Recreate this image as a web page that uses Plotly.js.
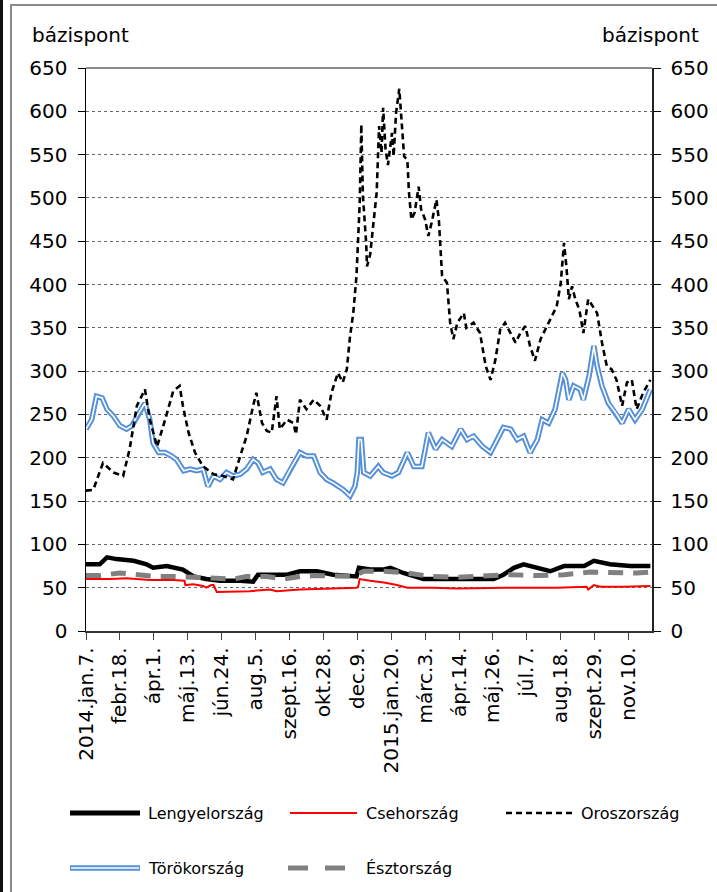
<!DOCTYPE html>
<html>
<head>
<meta charset="utf-8">
<script src="https://cdn.plot.ly/plotly-3.0.1.min.js"></script>
<style>
  html, body { margin: 0; padding: 0; background: #fff; }
  #wrap { position: relative; width: 717px; height: 892px; overflow: hidden; }
  #chart { position: absolute; left: 0; top: 0; width: 717px; height: 892px; }
  .frameTop { position: absolute; left: 11px; top: 4px; width: 706px; height: 0; border-top: 2px solid #8a8a8a; pointer-events: none; }
  .frameLeft { position: absolute; left: 10px; top: 4px; width: 0; height: 888px; border-left: 2px solid #8a8a8a; pointer-events: none; }
  .frameOuter { position: absolute; left: 0; top: 0; width: 0; height: 892px; border-left: 3px solid #111; pointer-events: none; }
</style>
</head>
<body>
<div id="wrap">
  <div id="chart"></div>
  <div class="frameTop"></div>
  <div class="frameLeft"></div>
  <div class="frameOuter"></div>
</div>
<script>
// ---- data (days since 2014-01-07, values in basis points) ----
const startDate = "2014-01-07";

const tickDates = ["2014-01-07","2014-02-18","2014-04-01","2014-05-13","2014-06-24","2014-08-05",
  "2014-09-16","2014-10-28","2014-12-09","2015-01-20","2015-03-03","2015-04-14","2015-05-26",
  "2015-07-07","2015-08-18","2015-09-29","2015-11-10"];
const tickLabels = ["2014.jan.7.","febr.18.","ápr.1.","máj.13.","jún.24.","aug.5.","szept.16.",
  "okt.28.","dec.9.","2015.jan.20.","márc.3.","ápr.14.","máj.26.","júl.7.","aug.18.","szept.29.","nov.10."];

const seriesNames = ["Lengyelország","Csehország","Oroszország","Törökország","Észtország"];

const plDays = [0,17,26,38,59,75,83,100,120,133,149,166,191,207,213,232,249,265,286,306,327,335,338,352,369,377,393,418,443,468,488,505,517,530,542,559,575,592,617,629,649,674,699];
const plVals = [77,77,85,83,81,77,73,75,71,63,60,58,58,57,65,65,65,69,69,65,63,63,73,71,71,73,67,60,60,60,60,60,65,73,77,73,69,75,75,81,77,75,75];

const czDays = [0,30,50,79,108,122,123,133,145,149,155,158,162,203,228,236,265,306,335,337,339,352,369,385,398,431,459,521,583,620,622,629,637,666,699];
const czVals = [60,60,61,59,59,58,53,54,52,50,53,53,45,46,48,46,48,49,50,51,60,58,56,53,50,50,49,50,50,51,48,53,51,51,52];

const ruDays = [0,9,21,34,46,54,63,73,79,88,98,108,116,120,127,135,145,158,170,182,191,199,207,211,218,224,230,236,240,249,257,260,265,273,282,290,298,304,312,318,323,327,331,335,339,341,343,347,348,352,356,360,363,366,368,371,374,379,381,384,388,391,394,398,400,403,407,412,415,420,424,428,434,437,441,447,451,455,460,468,471,480,488,495,501,507,513,519,525,532,538,544,550,556,563,571,579,583,588,592,595,598,602,606,611,616,622,627,633,639,645,651,657,664,670,676,682,690,699];
const ruVals = [162,163,194,183,179,210,260,279,244,213,244,277,283,260,229,206,190,181,179,175,202,225,260,275,240,231,229,271,233,244,240,227,267,256,267,260,244,275,298,287,302,340,367,410,494,585,502,448,421,435,471,506,583,552,604,556,538,575,548,598,626,583,548,544,506,475,483,513,487,475,456,471,498,475,410,402,356,337,356,367,350,356,344,306,290,313,348,356,346,333,344,352,329,312,337,352,367,375,402,448,421,383,398,383,371,344,383,375,367,333,306,302,290,260,287,290,256,275,290];

const trDays = [0,7,13,20,26,34,42,50,57,63,73,79,83,90,98,106,112,121,129,137,145,151,158,166,174,182,191,199,207,213,219,228,236,244,253,265,273,282,290,298,306,319,327,333,336,338,341,344,352,362,368,379,387,398,406,416,424,433,441,453,464,472,480,491,501,509,517,526,534,542,550,559,565,573,581,590,594,598,604,612,616,623,629,633,639,647,656,664,672,680,689,699];
const trVals = [233,244,271,269,256,248,237,233,237,248,263,244,217,206,206,202,198,185,187,185,187,167,179,175,183,179,181,187,198,194,183,187,175,171,187,206,202,202,183,175,171,163,156,167,183,221,221,183,179,190,183,179,183,206,190,190,229,210,221,213,233,221,225,213,206,221,235,233,221,225,206,221,244,240,256,298,290,267,283,279,267,294,329,306,283,263,252,240,256,244,256,279];

const eeDays = [0,17,42,67,87,108,133,158,183,199,224,245,265,286,306,331,344,369,398,427,459,492,525,559,592,625,657,682,699];
const eeVals = [64,64,67,65,63,63,62,60,60,63,63,60,63,64,64,63,69,69,67,63,62,64,65,64,65,68,67,67,68];

// ---- helpers ----
const t0 = Date.parse(startDate + "T00:00:00Z");
const toDate = n => new Date(t0 + n * 86400000).toISOString().slice(0, 10);

// plot area in pixels: x 86..652, y 68..631
const L = 86, R = 652, T = 68, B = 631;
const px = x => (x - L) / (R - L);
const py = y => (B - y) / (B - T);

const FONT = "DejaVu Sans";
const BLUE = "#5590d8";

const traces = [
  {name: seriesNames[3], x: trDays.map(toDate), y: trVals, mode: "lines",
   line: {color: BLUE, width: 5.5}, showlegend: false, hoverinfo: "skip"},
  {name: seriesNames[3] + " (belső)", x: trDays.map(toDate), y: trVals, mode: "lines",
   line: {color: "#ffffff", width: 1.6}, showlegend: false, hoverinfo: "skip"},
  {name: seriesNames[2], x: ruDays.map(toDate), y: ruVals, mode: "lines",
   line: {color: "#000000", width: 2.6, dash: "6px,4px"}, showlegend: false},
  {name: seriesNames[0], x: plDays.map(toDate), y: plVals, mode: "lines",
   line: {color: "#000000", width: 4.5}, showlegend: false},
  {name: seriesNames[1], x: czDays.map(toDate), y: czVals, mode: "lines",
   line: {color: "#ff0000", width: 2}, showlegend: false},
  {name: seriesNames[4], x: eeDays.map(toDate), y: eeVals, mode: "lines",
   line: {color: "#808080", width: 5, dash: "15px,10px"}, showlegend: false},
  {x: [], y: [], yaxis: "y2", showlegend: false, hoverinfo: "skip"}
];

// custom legend
const legendItems = [
  {name: seriesNames[0], row: 813, x0: 70, x1: 140, tx: 146, line: {color: "#000", width: 5}},
  {name: seriesNames[1], row: 813, x0: 290, x1: 357, tx: 364, line: {color: "#ff0000", width: 2}},
  {name: seriesNames[2], row: 813, x0: 506, x1: 572, tx: 579, line: {color: "#000", width: 2.6, dash: "6px,4px"}},
  {name: seriesNames[3], row: 868, x0: 70, x1: 140, tx: 146, line: {color: BLUE, width: 5.5}, inner: true},
  {name: seriesNames[4], row: 868, x0: 288, x1: 350, tx: 364, line: {color: "#808080", width: 5, dash: "20px,17px"}}
];
const shapes = [
  {type: "line", xref: "paper", yref: "paper", x0: 0, x1: 1, y0: 1, y1: 1,
   line: {color: "#8c8c8c", width: 2}}
];
const annotations = [
  {xref: "paper", yref: "paper", x: px(30), y: py(35), xanchor: "left", yanchor: "middle",
   text: "bázispont", showarrow: false, font: {family: FONT, size: 20, color: "#000"}},
  {xref: "paper", yref: "paper", x: px(701), y: py(35), xanchor: "right", yanchor: "middle",
   text: "bázispont", showarrow: false, font: {family: FONT, size: 20, color: "#000"}}
];
legendItems.forEach(it => {
  shapes.push({type: "line", xref: "paper", yref: "paper", x0: px(it.x0), x1: px(it.x1),
    y0: py(it.row), y1: py(it.row), line: it.line});
  if (it.inner) {
    shapes.push({type: "line", xref: "paper", yref: "paper", x0: px(it.x0 + 1), x1: px(it.x1 - 1),
      y0: py(it.row), y1: py(it.row), line: {color: "#fff", width: 1.6}});
  }
  annotations.push({xref: "paper", yref: "paper", x: px(it.tx), y: py(it.row),
    xanchor: "left", yanchor: "middle", text: it.name, showarrow: false,
    font: {family: FONT, size: 16, color: "#000"}});
});

const yCommon = {
  range: [0, 650], dtick: 50, tick0: 0, ticks: "outside", ticklen: 7, tickcolor: "#000",
  showline: true, linewidth: 1.5, zeroline: false,
  tickfont: {family: FONT, size: 20, color: "#000"}, ticklabelstandoff: 6, fixedrange: true
};

const layout = {
  width: 717, height: 892,
  margin: {l: L, r: 717 - R, t: T, b: 892 - B},
  paper_bgcolor: "#fff", plot_bgcolor: "#fff",
  showlegend: false,
  xaxis: {
    type: "date", range: ["2014-01-07", "2015-12-09"],
    tickmode: "array", tickvals: tickDates, ticktext: tickLabels, tickangle: -90,
    ticks: "outside", ticklen: 7, tickcolor: "#444",
    showline: true, linecolor: "#333", linewidth: 1.5, showgrid: false, zeroline: false,
    tickfont: {family: FONT, size: 20, color: "#000"}, fixedrange: true
  },
  yaxis: Object.assign({}, yCommon, {
    side: "left", linecolor: "#000", showgrid: true, gridcolor: "#666", gridwidth: 1, griddash: "dot"
  }),
  yaxis2: Object.assign({}, yCommon, {
    overlaying: "y", side: "right", linecolor: "#222", showgrid: false
  }),
  shapes: shapes,
  annotations: annotations
};

Plotly.newPlot("chart", traces, layout, {staticPlot: true, displayModeBar: false});
</script>
</body>
</html>
